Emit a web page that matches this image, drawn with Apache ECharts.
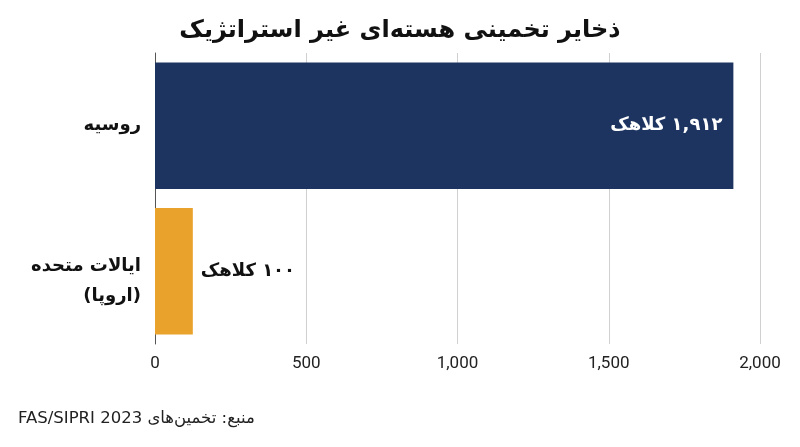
<!DOCTYPE html>
<html>
<head>
<meta charset="utf-8">
<script src="https://cdn.jsdelivr.net/npm/echarts@6/dist/echarts.min.js"></script>
<style>
html,body{margin:0;padding:0;background:#fff;}
#chart{width:800px;height:447px;direction:rtl;}
</style>
</head>
<body>
<div id="chart"></div>
<script>
// داده‌ها
var categories = ['روسیه', 'ایالات متحده\n(اروپا)'];
var barValues = [1912, 125];
var barLabels = ['۱,۹۱۲ کلاهک', '۱۰۰ کلاهک'];
var barColors = ['#1d3461', '#e9a22b'];
var titleText = 'ذخایر تخمینی هسته‌ای غیر استراتژیک';
var sourceText = 'منبع: تخمین‌های FAS/SIPRI 2023';

var FA_FONT = 'DejaVu Sans';

function buildData() {
    var list = [];
    for (var i = 0; i < barValues.length; i++) {
        var lbl = i == 0
            ? {show: true, position: 'insideRight', distance: 11, color: '#fff'}
            : {show: true, position: 'right', distance: 8, color: '#111'};
        lbl.formatter = barLabels[i];
        lbl.fontFamily = FA_FONT;
        lbl.fontWeight = 'bold';
        lbl.fontSize = 18;
        list.push({value: barValues[i], itemStyle: {color: barColors[i]}, label: lbl});
    }
    return list;
}

// برچسب دوخطی کمی پایین‌تر از مرکز دسته
function catFormatter(v) {
    if (v.indexOf('\n') < 0) return '{t|' + v + '}';
    var parts = v.split('\n');
    var s = '{s| }';
    for (var i = 0; i < parts.length; i++) {
        s += '\n{t|' + parts[i] + '}';
    }
    return s;
}

var option = {
    animation: false,
    title: {
        text: titleText, left: 'center', top: 14,
        textStyle: {fontFamily: FA_FONT, fontWeight: 'bold', fontSize: 24, color: '#111'}
    },
    grid: {left: 155, right: 40, top: 53, bottom: 103, containLabel: false},
    xAxis: {
        type: 'value', min: 0, max: 2000, interval: 500,
        axisLine: {show: false}, axisTick: {show: false},
        splitLine: {show: true, lineStyle: {color: '#d0d0d0', width: 1}},
        axisLabel: {
            margin: 11, fontFamily: 'Roboto', fontSize: 17, color: '#222',
            formatter: function (v) { return v.toLocaleString('en-US'); }
        }
    },
    yAxis: {
        type: 'category', data: categories, inverse: true,
        axisLine: {show: true, lineStyle: {color: '#555', width: 1}},
        axisTick: {show: false},
        axisLabel: {
            margin: 14, formatter: catFormatter,
            rich: {
                t: {fontFamily: FA_FONT, fontWeight: 'bold', fontSize: 18, color: '#111', lineHeight: 30},
                s: {fontSize: 10, lineHeight: 20}
            }
        }
    },
    series: [{
        type: 'bar', barCategoryGap: '13%',
        data: buildData()
    }],
    graphic: [{
        type: 'text', left: 18, top: 410,
        style: {text: sourceText, font: '16.5px "' + FA_FONT + '"', fill: '#222'}
    }]
};

var myChart = echarts.init(document.getElementById('chart'));
myChart.setOption(option);
</script>
</body>
</html>
